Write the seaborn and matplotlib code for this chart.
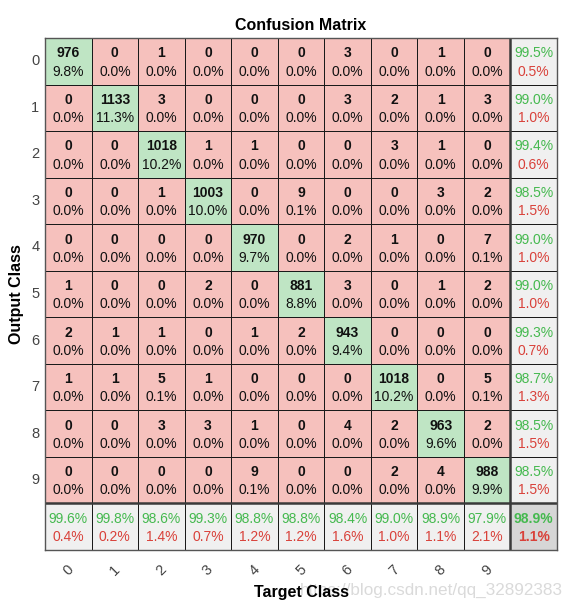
import numpy as np
import pandas as pd
import matplotlib
matplotlib.use("Agg")
import matplotlib.pyplot as plt
from matplotlib.colors import ListedColormap
import seaborn as sns

# ── Data ─────────────────────────────────────────────────────────────────────
classes = ["0", "1", "2", "3", "4", "5", "6", "7", "8", "9"]
# rows = output (predicted) class, columns = target class
row0 = [976, 0, 1, 0, 0, 0, 3, 0, 1, 0]
row1 = [0, 1133, 3, 0, 0, 0, 3, 2, 1, 3]
row2 = [0, 0, 1018, 1, 1, 0, 0, 3, 1, 0]
row3 = [0, 0, 1, 1003, 0, 9, 0, 0, 3, 2]
row4 = [0, 0, 0, 0, 970, 0, 2, 1, 0, 7]
row5 = [1, 0, 0, 2, 0, 881, 3, 0, 1, 2]
row6 = [2, 1, 1, 0, 1, 2, 943, 0, 0, 0]
row7 = [1, 1, 5, 1, 0, 0, 0, 1018, 0, 5]
row8 = [0, 0, 3, 3, 1, 0, 4, 2, 963, 2]
row9 = [0, 0, 0, 0, 9, 0, 0, 2, 4, 988]

cm = np.array([row0, row1, row2, row3, row4, row5, row6, row7, row8, row9])
n = len(classes)
total = cm.sum()
diag = np.diag(cm)
row_acc = diag / cm.sum(axis=1) * 100     # precision per output class
col_acc = diag / cm.sum(axis=0) * 100     # recall per target class
all_acc = diag.sum() / total * 100

# ── Cell type matrix (0 = wrong, 1 = correct, 2 = summary, 3 = overall) ─────
kind = np.zeros((n + 1, n + 1), dtype=int)
kind[np.arange(n), np.arange(n)] = 1
kind[n, :] = 2
kind[:, n] = 2
kind[n, n] = 3
labels = classes + [""]
df_kind = pd.DataFrame(kind, index=labels, columns=labels)

RED_BG, GREEN_BG, GRAY_BG, DARK_BG = "#f6c1bd", "#bfe5c4", "#f0f0f0", "#d6d6d6"
GREEN_TX, RED_TX = "#45b94f", "#d9413a"
cmap = ListedColormap([RED_BG, GREEN_BG, GRAY_BG, DARK_BG])

plt.rcParams["font.family"] = ["Liberation Sans", "DejaVu Sans"]
FS = 10

fig = plt.figure(figsize=(5.73, 6.08), dpi=100)
ax = fig.add_axes([45 / 573, 58 / 608, 512 / 573, 512 / 608])

sns.heatmap(df_kind, cmap=cmap, vmin=-0.5, vmax=3.5, cbar=False,
            linewidths=0.7, linecolor="#1a1a1a", square=False, ax=ax)

# thicker separators for the summary row / column
ax.axvline(n, color="#3a3a3a", lw=1.8)
ax.axhline(n, color="#3a3a3a", lw=1.8)
for s in ax.spines.values():
    s.set_visible(True)
    s.set_color("#555555")
    s.set_linewidth(1.0)

# ── Annotations ──────────────────────────────────────────────────────────────
for i in range(n):
    for j in range(n):
        ax.text(j + 0.5, i + 0.33, f"{cm[i, j]}", ha="center", va="center",
                fontsize=FS, fontweight="bold", color="#111111")
        ax.text(j + 0.5, i + 0.72, f"{cm[i, j] / total * 100:.1f}%",
                ha="center", va="center", fontsize=FS, color="#111111")
    ax.text(n + 0.5, i + 0.33, f"{row_acc[i]:.1f}%", ha="center", va="center",
            fontsize=FS, color=GREEN_TX)
    ax.text(n + 0.5, i + 0.72, f"{100 - row_acc[i]:.1f}%", ha="center",
            va="center", fontsize=FS, color=RED_TX)
for j in range(n):
    ax.text(j + 0.5, n + 0.33, f"{col_acc[j]:.1f}%", ha="center", va="center",
            fontsize=FS, color=GREEN_TX)
    ax.text(j + 0.5, n + 0.72, f"{100 - col_acc[j]:.1f}%", ha="center",
            va="center", fontsize=FS, color=RED_TX)
ax.text(n + 0.5, n + 0.33, f"{all_acc:.1f}%", ha="center", va="center",
        fontsize=FS, fontweight="bold", color=GREEN_TX)
ax.text(n + 0.5, n + 0.72, f"{100 - all_acc:.1f}%", ha="center", va="center",
        fontsize=FS, fontweight="bold", color=RED_TX)

# ── Ticks and labels ─────────────────────────────────────────────────────────
ax.set_xticks(np.arange(n) + 0.5)
ax.set_xticklabels(classes, rotation=45, fontsize=10.5, color="#444444")
ax.set_yticks(np.arange(n) + 0.5)
ax.set_yticklabels(classes, rotation=0, fontsize=10.5, color="#444444")
ax.tick_params(axis="y", length=0, pad=4)
ax.tick_params(axis="x", length=0, pad=9)

ax.set_title("Confusion Matrix", fontsize=11.5, fontweight="bold", pad=6)
ax.set_xlabel("Target Class", fontsize=11.5, fontweight="bold", labelpad=5)
ax.set_ylabel("Output Class", fontsize=11.5, fontweight="bold", labelpad=5)

# faint blog watermark in the lower right corner, partly behind the x label
fig.text(0.982, 1 - 590 / 608, "https://blog.csdn.net/qq_32892383", ha="right",
         va="center", fontsize=12.3, color="#dadada", zorder=-1)

plt.savefig("out.png", dpi=100)
plt.close()
